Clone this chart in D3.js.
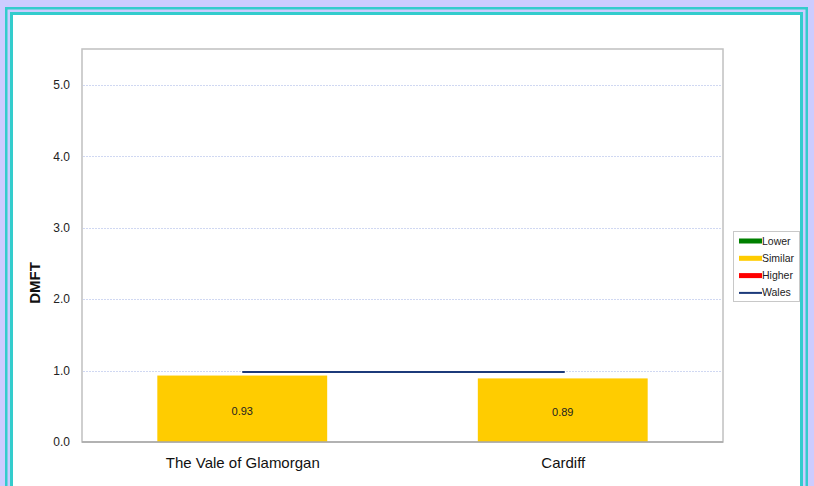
<!DOCTYPE html>
<meta charset="utf-8">
<style>
body { margin: 0; background: #ccccff; }
svg { display: block; font-family: "Liberation Sans", Arial, sans-serif; }
</style>
<body>
<script src="https://d3js.org/d3.v7.min.js"></script>
<script>

// chart data
var areas = ["The Vale of Glamorgan", "Cardiff"];
var dmft = [0.93, 0.89];
var bandColours = ["#ffcc00", "#ffcc00"];
var walesValue = 0.98;
var yTicks = [0, 1, 2, 3, 4, 5];
var legendLabels = ["Lower", "Similar", "Higher", "Wales"];
var legendColours = ["#008000", "#ffcc00", "#ff0000", "#1c3a7a"];

var W = 814, H = 486;
var plot = {left: 82, right: 723, top: 49, bottom: 442};

var svg = d3.select("body").append("svg")
    .attr("width", W)
    .attr("height", H);

// page frame (double cyan border)
svg.append("rect").attr("x", 6.25).attr("y", 8.25)
    .attr("width", 800.5).attr("height", 600)
    .attr("fill", "none").attr("stroke", "#33cccc").attr("stroke-width", 2.5);
svg.append("rect").attr("x", 11.5).attr("y", 13.5)
    .attr("width", 790).attr("height", 600)
    .attr("fill", "#ffffff").attr("stroke", "#33cccc").attr("stroke-width", 3);

// scales
var x = d3.scaleBand()
    .domain(areas)
    .range([plot.left, plot.right])
    .paddingInner(0.47)
    .paddingOuter(0.235);
var xc = d3.scalePoint()
    .domain(areas)
    .range([plot.left, plot.right])
    .padding(0.5);
var y = d3.scaleLinear()
    .domain([0, 5.5])
    .range([plot.bottom, plot.top]);

// plot area frame
svg.append("rect")
    .attr("x", plot.left).attr("y", plot.top)
    .attr("width", plot.right - plot.left)
    .attr("height", plot.bottom - plot.top)
    .attr("fill", "#ffffff")
    .attr("stroke", "#c0c0c0").attr("stroke-width", 1.5);

// gridlines
svg.append("g")
    .selectAll("line")
    .data(yTicks.filter(function(d) { return d > 0; }))
    .enter().append("line")
    .attr("x1", plot.left + 1).attr("x2", plot.right - 1)
    .attr("y1", function(d) { return Math.round(y(d)) + 0.5; })
    .attr("y2", function(d) { return Math.round(y(d)) + 0.5; })
    .attr("stroke", "#d0d8f2")
    .attr("stroke-dasharray", "2,1");

// y axis
var yAxis = svg.append("g")
    .attr("transform", "translate(" + plot.left + ",0)")
    .call(d3.axisLeft(y).tickValues(yTicks).tickSize(0).tickPadding(12)
        .tickFormat(d3.format(".1f")));
yAxis.select(".domain").remove();
yAxis.selectAll("text")
    .style("font-size", "12px")
    .style("font-family", "Liberation Sans, Arial, sans-serif")
    .attr("fill", "#222");

// bars
svg.selectAll(".bar")
    .data(areas)
    .enter().append("rect")
    .attr("class", "bar")
    .attr("x", function(d) { return x(d); })
    .attr("width", x.bandwidth())
    .attr("y", function(d, i) { return y(dmft[i]); })
    .attr("height", function(d, i) { return y(0) - y(dmft[i]); })
    .attr("fill", function(d, i) { return bandColours[i]; });

// bar value labels
svg.selectAll(".val")
    .data(areas)
    .enter().append("text")
    .attr("class", "val")
    .attr("x", function(d) { return xc(d); })
    .attr("y", function(d, i) { return (y(dmft[i]) + y(0)) / 2 + 6; })
    .attr("text-anchor", "middle")
    .style("font-size", "11px")
    .attr("fill", "#222")
    .text(function(d, i) { return dmft[i].toFixed(2); });

// x axis baseline
svg.append("line")
    .attr("x1", plot.left).attr("x2", plot.right)
    .attr("y1", y(0)).attr("y2", y(0))
    .attr("stroke", "#a8a8a8").attr("stroke-width", 1.5);

// x axis labels
var xAxis = svg.append("g")
    .attr("transform", "translate(0," + plot.bottom + ")")
    .call(d3.axisBottom(xc).tickSize(0).tickPadding(15));
xAxis.select(".domain").remove();
xAxis.selectAll("text")
    .style("font-size", "15px")
    .style("font-family", "Liberation Sans, Arial, sans-serif")
    .attr("fill", "#111");

// Wales average line
svg.append("line")
    .attr("x1", xc(areas[0])).attr("x2", xc(areas[1]) + 2)
    .attr("y1", y(walesValue)).attr("y2", y(walesValue))
    .attr("stroke", "#1c3a7a").attr("stroke-width", 2);

// y axis title
svg.append("text")
    .attr("transform", "translate(40,283) rotate(-90)")
    .attr("text-anchor", "middle")
    .style("font-size", "15px")
    .style("font-weight", "bold")
    .attr("fill", "#111")
    .text("DMFT");

// legend
var lg = svg.append("g").attr("transform", "translate(733,231)");
lg.append("rect")
    .attr("x", 0.5).attr("y", 0.5).attr("width", 66).attr("height", 70)
    .attr("fill", "#ffffff").attr("stroke", "#c8c8c8");
var items = lg.selectAll(".item")
    .data(legendLabels)
    .enter().append("g")
    .attr("class", "item")
    .attr("transform", function(d, i) { return "translate(6," + (10 + i * 17.3) + ")"; });
items.append("rect")
    .attr("x", 0).attr("width", 23)
    .attr("y", function(d) { return d === "Wales" ? -1 : -2.5; })
    .attr("height", function(d) { return d === "Wales" ? 2 : 5; })
    .attr("fill", function(d, i) { return legendColours[i]; });
items.append("text")
    .attr("x", 23).attr("y", 3.5)
    .style("font-size", "10.5px")
    .attr("fill", "#222")
    .text(function(d) { return d; });

</script>
</body>
